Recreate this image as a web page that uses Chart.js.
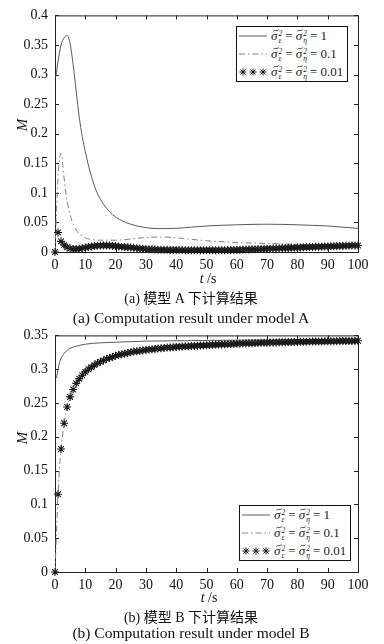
<!DOCTYPE html>
<html>
<head>
<meta charset="utf-8">
<script src="https://cdn.jsdelivr.net/npm/chart.js@4.4.0/dist/chart.umd.min.js"></script>
<style>
html, body { margin: 0; padding: 0; background: #fff; }
#page { position: relative; width: 384px; height: 644px; overflow: hidden;
        font-family: "Liberation Serif", "Noto Sans CJK SC", serif; color: #111; }
.box { position: absolute; left: 0; width: 384px; height: 288px; }
.txt { position: absolute; white-space: nowrap; transform: translate(-50%, -50%); font-size: 14px; }
.en { font-size: 15.5px; }
.ylab { transform: translate(-50%, -50%) rotate(-90deg); font-style: italic; font-size: 15px; }
.legend { position: absolute; width: 110px; height: 54px; border: 1.5px solid #111; background: #fff;
          font-size: 13px; font-weight: normal; color: #222; overflow: hidden; }
.row { height: 18px; display: flex; align-items: center; white-space: nowrap; }
.row svg.smp { margin-left: 2px; margin-right: 4px; flex: none; }
.sig { position: relative; display: inline-block; font-style: italic; }
.sig svg { position: absolute; left: 1.5px; top: 1px; }
.ss { display: inline-flex; flex-direction: column; font-size: 7.5px; line-height: 7px; vertical-align: middle; font-style: italic; margin: 0 3px 0 1px; }
</style>
</head>
<body>
<div id="page">
  <div class="box" style="top:0"><canvas id="chartA"></canvas></div>
  <div class="box" style="top:320px"><canvas id="chartB"></canvas></div>

  <div class="txt ylab" style="left:22px; top:125px">M</div>
  <div class="txt" style="left:208px; top:279px"><i>t</i> /s</div>
  <div class="txt" style="left:191px; top:297px">(a) 模型 A 下计算结果</div>
  <div class="txt en" style="left:191px; top:318px">(a) Computation result under model A</div>

  <div class="txt ylab" style="left:22px; top:438px">M</div>
  <div class="txt" style="left:209px; top:598px"><i>t</i> /s</div>
  <div class="txt" style="left:191px; top:616px">(b) 模型 B 下计算结果</div>
  <div class="txt en" style="left:191px; top:633px">(b) Computation result under model B</div>

  <div class="legend" id="legA" style="left:236px; top:26px"></div>
  <div class="legend" id="legB" style="left:239px; top:505px"></div>
</div>

<script>
// --- data ---
const xTicks = [0, 10, 20, 30, 40, 50, 60, 70, 80, 90, 100];
const yTicksA = [0, 0.05, 0.1, 0.15, 0.2, 0.25, 0.3, 0.35, 0.4];
const yTicksB = [0, 0.05, 0.1, 0.15, 0.2, 0.25, 0.3, 0.35];
const legendValues = ['1', '0.1', '0.01'];

// model A
const tSolidA = [0.3, 1, 2, 3, 4, 5, 6, 7, 8, 9, 10, 11, 12, 13, 14, 15, 17, 19, 22, 25, 28, 32, 36, 40, 45, 50, 60, 70, 80, 85, 90, 95, 100];
const mSolidA = [0.297, 0.322, 0.350, 0.362, 0.366, 0.352, 0.316, 0.272, 0.228, 0.195, 0.170, 0.147, 0.128, 0.112, 0.099, 0.089, 0.074, 0.063, 0.053, 0.047, 0.043, 0.040, 0.0395, 0.040, 0.042, 0.044, 0.046, 0.047, 0.046, 0.045, 0.044, 0.042, 0.040];

const tDashA = [0, 0.5, 1, 1.5, 2, 2.5, 3, 3.5, 4, 5, 6, 7, 8, 9, 10, 12, 15, 20, 25, 30, 35, 40, 50, 60, 70, 80, 90, 100];
const mDashA = [0, 0.07, 0.125, 0.158, 0.167, 0.150, 0.125, 0.103, 0.086, 0.063, 0.047, 0.037, 0.031, 0.027, 0.024, 0.021, 0.020, 0.020, 0.022, 0.0245, 0.0255, 0.024, 0.019, 0.016, 0.0145, 0.013, 0.012, 0.0115];

const tStar = [0, 1, 2, 3, 4, 5, 6, 7, 8, 9, 10, 11, 12, 13, 14, 15, 16, 17, 18, 19, 20,
  21, 22, 23, 24, 25, 26, 27, 28, 29, 30, 31, 32, 33, 34, 35, 36, 37, 38, 39, 40,
  41, 42, 43, 44, 45, 46, 47, 48, 49, 50, 51, 52, 53, 54, 55, 56, 57, 58, 59, 60,
  61, 62, 63, 64, 65, 66, 67, 68, 69, 70, 71, 72, 73, 74, 75, 76, 77, 78, 79, 80,
  81, 82, 83, 84, 85, 86, 87, 88, 89, 90, 91, 92, 93, 94, 95, 96, 97, 98, 99, 100];

const mStarA = [0, 0.033, 0.018, 0.012, 0.008, 0.006, 0.005, 0.005, 0.0055, 0.0065, 0.0075,
  0.0085, 0.0095, 0.010, 0.0105, 0.011, 0.011, 0.011, 0.011, 0.0105, 0.010,
  0.0095, 0.009, 0.0085, 0.008, 0.0075, 0.007, 0.0065, 0.006, 0.0055, 0.005,
  0.0047, 0.0045, 0.0042, 0.004, 0.0038, 0.0037, 0.0036, 0.0035, 0.0034, 0.0033,
  0.0032, 0.0032, 0.0031, 0.0031, 0.003, 0.003, 0.003, 0.003, 0.003, 0.003,
  0.003, 0.003, 0.003, 0.003, 0.003, 0.0031, 0.0032, 0.0033, 0.0034, 0.0035,
  0.0037, 0.0039, 0.0041, 0.0043, 0.0045, 0.0047, 0.0049, 0.0051, 0.0053, 0.0055,
  0.0057, 0.0059, 0.0061, 0.0063, 0.0065, 0.0067, 0.0069, 0.0071, 0.0073, 0.0075,
  0.0077, 0.0079, 0.0081, 0.0083, 0.0085, 0.0087, 0.0089, 0.009, 0.0092, 0.0094,
  0.0096, 0.0098, 0.010, 0.0101, 0.0103, 0.0105, 0.0106, 0.0108, 0.011, 0.011];

// model B
const tSolidB = [0.5, 1, 1.5, 2, 3, 4, 5, 7, 10, 15, 20, 30, 40, 60, 80, 100];
const mSolidB = [0.287, 0.300, 0.310, 0.316, 0.323, 0.328, 0.331, 0.334, 0.337, 0.339, 0.340, 0.3415, 0.342, 0.343, 0.3435, 0.3435];

const tDashB = [0, 0.5, 1, 1.5, 2, 3, 4, 5, 6, 8, 10, 15, 20, 30, 40, 60, 80, 100];
const mDashB = [0, 0.06, 0.115, 0.155, 0.182, 0.220, 0.244, 0.259, 0.270, 0.286, 0.296, 0.311, 0.320, 0.3285, 0.333, 0.3376, 0.3404, 0.342];

const mStarB = [0, 0.115, 0.182, 0.220, 0.244, 0.259, 0.270, 0.279, 0.286, 0.291, 0.296,
  0.300, 0.303, 0.306, 0.309, 0.311, 0.313, 0.315, 0.317, 0.318, 0.320,
  0.321, 0.322, 0.323, 0.324, 0.325, 0.326, 0.3265, 0.327, 0.328, 0.3285,
  0.329, 0.3295, 0.330, 0.3305, 0.331, 0.3315, 0.332, 0.3322, 0.3325, 0.333,
  0.3332, 0.3335, 0.3338, 0.334, 0.3342, 0.3345, 0.3347, 0.335, 0.3352, 0.3355,
  0.3357, 0.336, 0.3362, 0.3364, 0.3366, 0.3368, 0.337, 0.3372, 0.3374, 0.3376,
  0.3378, 0.338, 0.3382, 0.3383, 0.3385, 0.3386, 0.3388, 0.339, 0.3391, 0.3392,
  0.3394, 0.3395, 0.3396, 0.3398, 0.3399, 0.340, 0.3401, 0.3402, 0.3403, 0.3404,
  0.3405, 0.3406, 0.3407, 0.3408, 0.3409, 0.341, 0.341, 0.3411, 0.3412, 0.3413,
  0.3414, 0.3414, 0.3415, 0.3416, 0.3416, 0.3417, 0.3418, 0.3418, 0.3419, 0.342];

// --- styles ---
const SOLID_COLOR = '#5a5a5a';
const DASH_COLOR = '#808080';
const STAR_COLOR = '#1a1a1a';
const DASH_PATTERN = [6, 3, 1.5, 3];

function pts(ts, ms) {
    return ts.map((t, i) => ({ x: t, y: ms[i] }));
}

// box + inward tick marks, matlab style
const framePlugin = {
    id: 'frame',
    beforeDatasetsDraw(chart) {
        const { ctx, chartArea: a, scales } = chart;
        ctx.save();
        ctx.strokeStyle = '#222';
        ctx.lineWidth = 1;
        ctx.strokeRect(a.left + 0.5, a.top + 0.5, a.right - a.left, a.bottom - a.top);
        ctx.beginPath();
        scales.x.ticks.forEach(t => {
            const px = Math.round(scales.x.getPixelForValue(t.value)) + 0.5;
            ctx.moveTo(px, a.bottom); ctx.lineTo(px, a.bottom - 4);
            ctx.moveTo(px, a.top); ctx.lineTo(px, a.top + 4);
        });
        scales.y.ticks.forEach(t => {
            const py = Math.round(scales.y.getPixelForValue(t.value)) + 0.5;
            ctx.moveTo(a.left, py); ctx.lineTo(a.left + 4, py);
            ctx.moveTo(a.right, py); ctx.lineTo(a.right - 4, py);
        });
        ctx.stroke();
        ctx.restore();
    }
};

function makeChart(id, solid, dash, star, yTicks) {
    const tickFont = { family: '"Liberation Serif", serif', size: 14 };
    return new Chart(document.getElementById(id), {
        type: 'line',
        data: {
            datasets: [
                {
                    data: star,
                    showLine: false,
                    pointStyle: 'star',
                    pointRadius: 4,
                    pointBorderWidth: 1.1,
                    borderColor: STAR_COLOR,
                    backgroundColor: STAR_COLOR,
                    clip: false,
                    order: 0
                },
                {
                    data: dash,
                    borderColor: DASH_COLOR,
                    borderWidth: 1,
                    borderDash: DASH_PATTERN,
                    pointRadius: 0,
                    cubicInterpolationMode: 'monotone',
                    order: 1
                },
                {
                    data: solid,
                    borderColor: SOLID_COLOR,
                    borderWidth: 1,
                    pointRadius: 0,
                    cubicInterpolationMode: 'monotone',
                    order: 2
                }
            ]
        },
        options: {
            responsive: true,
            maintainAspectRatio: false,
            animation: false,
            layout: { padding: { top: 12, right: 26, left: 0, bottom: 0 } },
            plugins: { legend: { display: false }, tooltip: { enabled: false } },
            scales: {
                x: {
                    type: 'linear',
                    min: xTicks[0],
                    max: xTicks[xTicks.length - 1],
                    grid: { display: false, drawTicks: false },
                    border: { display: false },
                    afterBuildTicks: s => { s.ticks = xTicks.map(v => ({ value: v })); },
                    afterFit: s => { s.height = 36; },
                    ticks: {
                        font: tickFont, color: '#111', padding: 5, maxRotation: 0,
                        callback: v => String(v)
                    }
                },
                y: {
                    type: 'linear',
                    min: yTicks[0],
                    max: yTicks[yTicks.length - 1],
                    grid: { display: false, drawTicks: false },
                    border: { display: false },
                    afterBuildTicks: s => { s.ticks = yTicks.map(v => ({ value: v })); },
                    afterFit: s => { s.width = 55; },
                    ticks: {
                        font: tickFont, color: '#111', padding: 7,
                        callback: v => String(+v.toFixed(2))
                    }
                }
            }
        },
        plugins: [framePlugin]
    });
}

makeChart('chartA', pts(tSolidA, mSolidA), pts(tDashA, mDashA), pts(tStar, mStarA), yTicksA);
makeChart('chartB', pts(tSolidB, mSolidB), pts(tDashB, mDashB), pts(tStar, mStarB), yTicksB);

// legend with sub/superscripts
const starSvg = '<svg class="smp" width="28" height="10" viewBox="0 0 28 10">' +
    [4, 14, 24].map(cx => `<g transform="translate(${cx},5)" stroke="${STAR_COLOR}" stroke-width="1">
        <path d="M-3.5,0H3.5M0,-3.5V3.5M-2.5,-2.5L2.5,2.5M-2.5,2.5L2.5,-2.5"/></g>`).join('') + '</svg>';
const samples = [
    `<svg class="smp" width="28" height="10"><line x1="0" y1="5" x2="28" y2="5" stroke="${SOLID_COLOR}" stroke-width="1"/></svg>`,
    `<svg class="smp" width="28" height="10"><line x1="0" y1="5" x2="28" y2="5" stroke="${DASH_COLOR}" stroke-width="1" stroke-dasharray="${DASH_PATTERN.join(' ')}"/></svg>`,
    starSvg
];

const tilde = '<svg width="6" height="3" viewBox="0 0 6 3"><path d="M0.3,2.3 C1.6,0.2 3.2,2.8 5.7,0.7" stroke="#222" fill="none" stroke-width="0.8"/></svg>';
const sigma = sub => `<span class="sig">σ${tilde}</span><span class="ss"><span>2</span><span>${sub}</span></span>`;

function legendHtml() {
    return legendValues.map((v, i) =>
        `<div class="row">${samples[i]}<span>${sigma('ε')}= ${sigma('η')}= ${v}</span></div>`
    ).join('');
}
document.getElementById('legA').innerHTML = legendHtml();
document.getElementById('legB').innerHTML = legendHtml();
</script>
</body>
</html>
